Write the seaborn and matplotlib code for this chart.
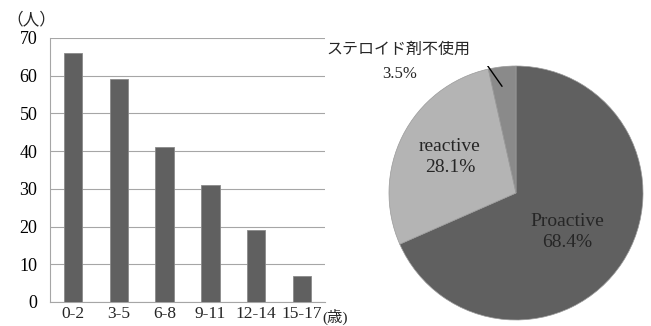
import matplotlib
matplotlib.use("Agg")
import matplotlib.pyplot as plt
import numpy as np
import pandas as pd
import seaborn as sns

# Age groups and patient counts
age_groups = ["0-2", "3-5", "6-8", "9-11", "12-14", "15-17"]
patients = [66, 59, 41, 31, 19, 7]

# Treatment breakdown (percent)
treat_labels = ["Proactive", "reactive", "ステロイド剤不使用"]
treat_share = [68.4, 28.1, 3.5]
treat_colors = ["#606060", "#b4b4b4", "#8a8a8a"]

sns.set_theme(style="white")
plt.rcParams["font.family"] = ["Liberation Serif", "Noto Sans CJK JP", "DejaVu Sans"]

fig = plt.figure(figsize=(6.51, 3.26), dpi=100)

# ---- bar chart ----
ax = fig.add_axes([50 / 651, 1 - 302 / 326, 275 / 651, 264 / 326])
df = pd.DataFrame({"age": age_groups, "n": patients})
sns.barplot(data=df, x="age", y="n", color="#606060", width=0.4,
            saturation=1, edgecolor="#8a8a8a", linewidth=0.6, ax=ax, zorder=3)
ax.set_ylim(0, 70)
ax.set_xlim(-0.5, len(age_groups) - 0.5)
ax.set_yticks(range(0, 71, 10))
ax.yaxis.grid(True, color="#a6a6a6", linewidth=0.8, zorder=0)
ax.set_xlabel("")
ax.set_ylabel("")
for side in ["top", "right"]:
    ax.spines[side].set_visible(False)
for side in ["left", "bottom"]:
    ax.spines[side].set_color("#a6a6a6")
    ax.spines[side].set_linewidth(0.8)
ax.tick_params(axis="y", length=0, labelsize=13, pad=9, colors="black")
ax.tick_params(axis="x", which="major", length=0, labelsize=12.5, pad=3)
ax.set_xticks(np.arange(-0.5, len(age_groups), 1.0), minor=True)
ax.tick_params(axis="x", which="minor", length=5, color="#a6a6a6", width=0.8)
ax.text(0.99, -0.055, "(歳)", transform=ax.transAxes, fontsize=11,
        ha="left", va="center")
ax.text(-0.16, 1.035, "（人）", transform=ax.transAxes, fontsize=12,
        ha="left", va="bottom")

# ---- pie chart ----
pax = fig.add_axes([389 / 651, 1 - 320 / 326, 254 / 651, 254 / 326])
wedges, _ = pax.pie(treat_share, colors=treat_colors, startangle=90,
                    counterclock=False, radius=1.0,
                    wedgeprops={"linewidth": 0.5, "edgecolor": "#9a9a9a"})
pax.set_aspect("equal")
pax.text(0.40, -0.31, f"{treat_labels[0]}\n{treat_share[0]}%", ha="center",
         va="center", fontsize=14, linespacing=1.3)
pax.text(-0.52, 0.28, f"{treat_labels[1]}\n{treat_share[1]}%", ha="center",
         va="center", fontsize=14, linespacing=1.3)
pax.text(-0.36, 1.13, treat_labels[2], ha="right", va="center", fontsize=11.5)
pax.text(-0.92, 0.94, f"{treat_share[2]}%", ha="center", va="center", fontsize=12)
pax.plot([-0.25, -0.11], [1.04, 0.84], color="black", linewidth=1)
pax.set_xlim(-1, 1)
pax.set_ylim(-1, 1)
pax.axis("off")

fig.savefig("out.png", dpi=100)
